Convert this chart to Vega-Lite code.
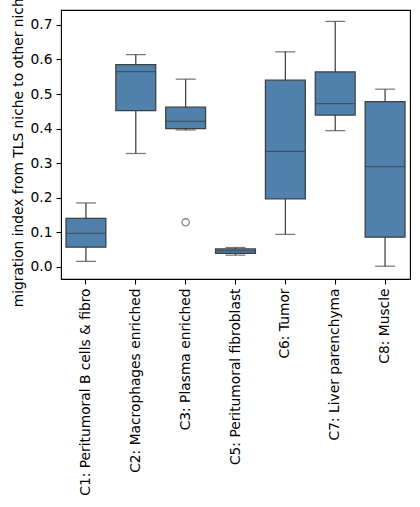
{
  "$schema": "https://vega.github.io/schema/vega-lite/v6.json",
  "autosize": {"type": "none"},
  "padding": {"left": 61, "top": 10, "right": 10, "bottom": 228},
  "width": 349,
  "height": 269,
  "background": "white",
  "config": {
    "font": "DejaVu Sans",
    "view": {"stroke": "black", "strokeWidth": 1.1},
    "axis": {
      "grid": false,
      "domain": false,
      "tickColor": "black",
      "tickSize": 5,
      "tickWidth": 1.1,
      "labelColor": "black",
      "labelFontSize": 13.8,
      "titleColor": "black",
      "titleFontSize": 13.8,
      "titleFontWeight": "normal",
      "labelPadding": 4
    }
  },
  "datasets": {
    "boxes": [
      {"niche": "C1: Peritumoral B cells & fibro", "lower": 0.016, "q1": 0.057, "median": 0.097, "q3": 0.140, "upper": 0.185},
      {"niche": "C2: Macrophages enriched", "lower": 0.328, "q1": 0.452, "median": 0.565, "q3": 0.585, "upper": 0.614},
      {"niche": "C3: Plasma enriched", "lower": 0.396, "q1": 0.400, "median": 0.421, "q3": 0.462, "upper": 0.543},
      {"niche": "C5: Peritumoral fibroblast", "lower": 0.034, "q1": 0.039, "median": 0.046, "q3": 0.052, "upper": 0.056},
      {"niche": "C6: Tumor", "lower": 0.094, "q1": 0.197, "median": 0.334, "q3": 0.540, "upper": 0.622},
      {"niche": "C7: Liver parenchyma", "lower": 0.394, "q1": 0.439, "median": 0.472, "q3": 0.564, "upper": 0.710},
      {"niche": "C8: Muscle", "lower": 0.002, "q1": 0.086, "median": 0.290, "q3": 0.478, "upper": 0.514}
    ],
    "outliers": [
      {"niche": "C3: Plasma enriched", "value": 0.129}
    ]
  },
  "encoding": {
    "x": {
      "field": "niche",
      "type": "nominal",
      "sort": null,
      "scale": {"paddingInner": 0, "paddingOuter": 0},
      "axis": {"title": null, "labelAngle": -90, "labelLimit": 0}
    }
  },
  "layer": [
    {
      "data": {"name": "boxes"},
      "mark": {"type": "rule", "color": "#3f3f3f", "strokeWidth": 1.25},
      "encoding": {
        "y": {
          "field": "lower",
          "type": "quantitative",
          "scale": {"domain": [-0.035, 0.743], "nice": false, "zero": false},
          "axis": {"title": "migration index from TLS niche to other niches", "values": [0, 0.1, 0.2, 0.3, 0.4, 0.5, 0.6, 0.7], "format": ".1f", "labelOverlap": false, "titlePadding": 5}
        },
        "y2": {"field": "upper"}
      }
    },
    {
      "data": {"name": "boxes"},
      "mark": {"type": "bar", "width": {"band": 0.8}, "fill": "#4f81ac", "stroke": "#3f3f3f", "strokeWidth": 1.25},
      "encoding": {
        "y": {
          "field": "q1",
          "type": "quantitative",
          "axis": {"title": "migration index from TLS niche to other niches", "values": [0, 0.1, 0.2, 0.3, 0.4, 0.5, 0.6, 0.7], "format": ".1f", "labelOverlap": false, "titlePadding": 5}
        },
        "y2": {"field": "q3"}
      }
    },
    {
      "data": {"name": "boxes"},
      "mark": {"type": "tick", "color": "#3f3f3f", "size": 40, "thickness": 1.25},
      "encoding": {
        "y": {
          "field": "median",
          "type": "quantitative",
          "axis": {"title": "migration index from TLS niche to other niches", "values": [0, 0.1, 0.2, 0.3, 0.4, 0.5, 0.6, 0.7], "format": ".1f", "labelOverlap": false, "titlePadding": 5}
        }
      }
    },
    {
      "data": {"name": "boxes"},
      "mark": {"type": "tick", "color": "#3f3f3f", "size": 20, "thickness": 1.25},
      "encoding": {
        "y": {
          "field": "lower",
          "type": "quantitative",
          "axis": {"title": "migration index from TLS niche to other niches", "values": [0, 0.1, 0.2, 0.3, 0.4, 0.5, 0.6, 0.7], "format": ".1f", "labelOverlap": false, "titlePadding": 5}
        }
      }
    },
    {
      "data": {"name": "boxes"},
      "mark": {"type": "tick", "color": "#3f3f3f", "size": 20, "thickness": 1.25},
      "encoding": {
        "y": {
          "field": "upper",
          "type": "quantitative",
          "axis": {"title": "migration index from TLS niche to other niches", "values": [0, 0.1, 0.2, 0.3, 0.4, 0.5, 0.6, 0.7], "format": ".1f", "labelOverlap": false, "titlePadding": 5}
        }
      }
    },
    {
      "data": {"name": "outliers"},
      "mark": {"type": "point", "shape": "circle", "filled": false, "stroke": "#3f3f3f", "strokeWidth": 1.1, "size": 55},
      "encoding": {
        "y": {
          "field": "value",
          "type": "quantitative",
          "axis": {"title": "migration index from TLS niche to other niches", "values": [0, 0.1, 0.2, 0.3, 0.4, 0.5, 0.6, 0.7], "format": ".1f", "labelOverlap": false, "titlePadding": 5}
        }
      }
    }
  ]
}
